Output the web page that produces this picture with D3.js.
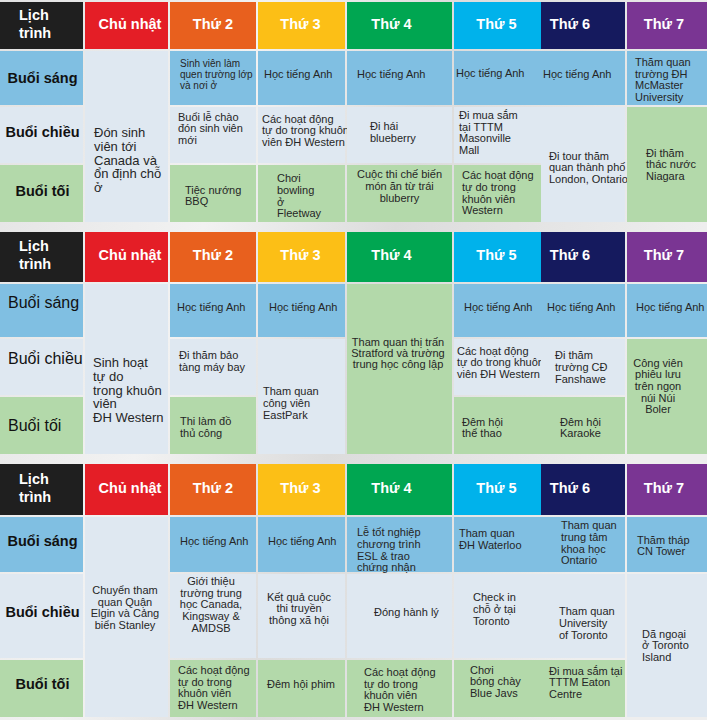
<!DOCTYPE html>
<html>
<head>
<meta charset="utf-8">
<script src="https://cdn.jsdelivr.net/npm/d3@7"></script>
<style>
body { margin: 0; background: #e9e9e9 }
svg { display: block }
</style>
</head>
<body>
<div id="chart"></div>
<script>
// các ngày trong tuần va buổi
var days = ['Chủ nhật', 'Thứ 2', 'Thứ 3', 'Thứ 4', 'Thứ 5', 'Thứ 6', 'Thứ 7']
var sessions = ['Buổi sáng', 'Buổi chiều', 'Buổi tối']
var sessionKinds = ['sang', 'chieu', 'toi']
var cornerLabel = ['Lịch', 'trình']

// tuần 1
var week1 = [
  { day: 0, row: 0, span: 3, kind: 'chieu', text: ['Đón sinh', 'viên tới', 'Canada và', 'ổn định chỗ', 'ở'] },
  { day: 1, row: 0, span: 1, kind: 'sang', text: ['Sinh viên làm', 'quen trường lớp', 'và nơi ở'] },
  { day: 1, row: 1, span: 1, kind: 'chieu', text: ['Buổi lễ chào', 'đón sinh viên', 'mới'] },
  { day: 1, row: 2, span: 1, kind: 'toi', text: ['Tiệc nướng', 'BBQ'] },
  { day: 2, row: 0, span: 1, kind: 'sang', text: ['Học tiếng Anh'] },
  { day: 2, row: 1, span: 1, kind: 'chieu', text: ['Các hoạt động', 'tự do trong khuôn', 'viên ĐH Western'] },
  { day: 2, row: 2, span: 1, kind: 'toi', text: ['Chơi', 'bowling', 'ở', 'Fleetway'] },
  { day: 3, row: 0, span: 1, kind: 'sang', text: ['Học tiếng Anh'] },
  { day: 3, row: 1, span: 1, kind: 'chieu', text: ['Đi hái', 'blueberry'] },
  { day: 3, row: 2, span: 1, kind: 'toi', text: ['Cuộc thi chế biến', 'món ăn từ trái', 'bluberry'] },
  { day: 4, row: 0, span: 1, kind: 'sang', text: ['Học tiếng Anh'] },
  { day: 4, row: 1, span: 1, kind: 'chieu', text: ['Đi mua sắm', 'tại TTTM', 'Masonville', 'Mall'] },
  { day: 4, row: 2, span: 1, kind: 'toi', text: ['Các hoạt động', 'tự do trong', 'khuôn viên', 'Western'] },
  { day: 5, row: 0, span: 1, kind: 'sang', text: ['Học tiếng Anh'] },
  { day: 5, row: 1, span: 2, kind: 'chieu', text: ['Đi tour thăm', 'quan thành phố', 'London, Ontario'] },
  { day: 6, row: 0, span: 1, kind: 'sang', text: ['Thăm quan', 'trường ĐH', 'McMaster', 'University'] },
  { day: 6, row: 1, span: 2, kind: 'toi', text: ['Đi thăm', 'thác nước', 'Niagara'] }
]

// tuần 2
var week2 = [
  { day: 0, row: 0, span: 3, kind: 'chieu', text: ['Sinh hoạt', 'tự do', 'trong khuôn', 'viên', 'ĐH Western'] },
  { day: 1, row: 0, span: 1, kind: 'sang', text: ['Học tiếng Anh'] },
  { day: 1, row: 1, span: 1, kind: 'chieu', text: ['Đi thăm bảo', 'tàng máy bay'] },
  { day: 1, row: 2, span: 1, kind: 'toi', text: ['Thi làm đồ', 'thủ công'] },
  { day: 2, row: 0, span: 1, kind: 'sang', text: ['Học tiếng Anh'] },
  { day: 2, row: 1, span: 2, kind: 'chieu', text: ['Tham quan', 'công viên', 'EastPark'] },
  { day: 3, row: 0, span: 3, kind: 'toi', text: ['Tham quan thị trấn', 'Stratford và trường', 'trung học công lập'] },
  { day: 4, row: 0, span: 1, kind: 'sang', text: ['Học tiếng Anh'] },
  { day: 4, row: 1, span: 1, kind: 'chieu', text: ['Các hoạt động', 'tự do trong khuôn', 'viên ĐH Western'] },
  { day: 4, row: 2, span: 1, kind: 'toi', text: ['Đêm hội', 'thể thao'] },
  { day: 5, row: 0, span: 1, kind: 'sang', text: ['Học tiếng Anh'] },
  { day: 5, row: 1, span: 1, kind: 'chieu', text: ['Đi thăm', 'trường CĐ', 'Fanshawe'] },
  { day: 5, row: 2, span: 1, kind: 'toi', text: ['Đêm hội', 'Karaoke'] },
  { day: 6, row: 0, span: 1, kind: 'sang', text: ['Học tiếng Anh'] },
  { day: 6, row: 1, span: 2, kind: 'toi', text: ['Công viên', 'phiêu lưu', 'trên ngọn', 'núi Núi', 'Boler'] }
]

// tuần 3
var week3 = [
  { day: 0, row: 0, span: 3, kind: 'chieu', text: ['Chuyển tham', 'quan Quận', 'Elgin và Cảng', 'biển Stanley'] },
  { day: 1, row: 0, span: 1, kind: 'sang', text: ['Học tiếng Anh'] },
  { day: 1, row: 1, span: 1, kind: 'chieu', text: ['Giới thiệu', 'trường trung', 'học Canada,', 'Kingsway &', 'AMDSB'] },
  { day: 1, row: 2, span: 1, kind: 'toi', text: ['Các hoạt động', 'tự do trong', 'khuôn viên', 'ĐH Western'] },
  { day: 2, row: 0, span: 1, kind: 'sang', text: ['Học tiếng Anh'] },
  { day: 2, row: 1, span: 1, kind: 'chieu', text: ['Kết quả cuộc', 'thi truyền', 'thông xã hội'] },
  { day: 2, row: 2, span: 1, kind: 'toi', text: ['Đêm hội phim'] },
  { day: 3, row: 0, span: 1, kind: 'sang', text: ['Lễ tốt nghiệp', 'chương trình', 'ESL & trao', 'chứng nhận'] },
  { day: 3, row: 1, span: 1, kind: 'chieu', text: ['Đóng hành lý'] },
  { day: 3, row: 2, span: 1, kind: 'toi', text: ['Các hoạt động', 'tự do trong', 'khuôn viên', 'ĐH Western'] },
  { day: 4, row: 0, span: 1, kind: 'sang', text: ['Tham quan', 'ĐH Waterloo'] },
  { day: 4, row: 1, span: 1, kind: 'chieu', text: ['Check in', 'chỗ ở tại', 'Toronto'] },
  { day: 4, row: 2, span: 1, kind: 'toi', text: ['Chơi', 'bóng chày', 'Blue Javs'] },
  { day: 5, row: 0, span: 1, kind: 'sang', text: ['Tham quan', 'trung tâm', 'khoa học', 'Ontario'] },
  { day: 5, row: 1, span: 1, kind: 'chieu', text: ['Tham quan', 'University', 'of Toronto'] },
  { day: 5, row: 2, span: 1, kind: 'toi', text: ['Đi mua sắm tại', 'TTTM Eaton', 'Centre'] },
  { day: 6, row: 0, span: 1, kind: 'sang', text: ['Thăm tháp', 'CN Tower'] },
  { day: 6, row: 1, span: 2, kind: 'chieu', text: ['Dã ngoại', 'ở Toronto', 'Island'] }
]

// ---- mise en page (couleurs, positions du texte) ----
var dayColors = ['#e41e26', '#e8601e', '#fcbf16', '#00a651', '#00b2eb', '#151a5e', '#7a3593']
var kindColors = { sang: '#80bfe2', chieu: '#dfe8f1', toi: '#b3d9aa' }
var cornerColor = '#1f1f1f'

var width = 707
var height = 720

// bords des colonnes : libellé, CN, T2 ... T7
var colEdges = [0, 85, 170, 258, 347, 454, 541, 627, 707]
var colGaps = [2, 2, 2, 2, 2, 0, 2, 0]
// petit décalage horizontal du nom des jours
var headDx = [3.5, 0, -1, -8, -1, -13, -3]
// bords des lignes : en-tête, sáng, chiều, tối
var tableRows = [
  [2, 51, 107, 165, 224],
  [232, 284, 339, 397, 456],
  [464, 517, 574, 660, 719]
]

// placement du texte dans chaque case : x = retrait gauche, mid = centré (+dx), dy = décalage vertical
var textPlace = [
  [{ x: 9, dy: 23.5, fs: 13 }, { x: 10, dy: -3.5, fs: 10 }, { x: 8, dy: -6.5 }, { x: 15, dy: 2 },
   { x: 6, dy: -4 }, { x: 4, dy: -4.5 }, { x: 19, dy: 2.5 },
   { x: 10, dy: -4 }, { x: 23, dy: -3 }, { mid: 0, dy: -7.5 },
   { x: 2, dy: -5 }, { x: 5, dy: -2.5 }, { x: 8, dy: -0.5 },
   { x: 2, dy: -4 }, { x: 8, dy: 3 },
   { x: 8, dy: 1.5 }, { x: 19, dy: 0 }],
  [{ x: 8, dy: 21, fs: 13 }, { x: 7, dy: -3.5 }, { x: 9, dy: -6 }, { x: 10, dy: 1.5 },
   { x: 11, dy: -3.5 }, { x: 5, dy: 6.5 },
   { mid: -1.5, dy: -15.5, lh: 11 },
   { x: 10, dy: -3.5 }, { x: 3, dy: -4.5 }, { x: 8, dy: 2 },
   { x: 6, dy: -3.5 }, { x: 14, dy: 0 }, { x: 19, dy: 2 },
   { x: 9, dy: -3.5 }, { mid: -9, dy: -10.5 }],
  [{ mid: -1.5, dy: -9.5 }, { x: 10, dy: -3.5 }, { mid: -2, dy: -11.5 }, { x: 8, dy: -1 },
   { x: 10, dy: -3.5 }, { mid: -2.5, dy: -7.5 }, { x: 9, dy: -4.5 },
   { x: 10, dy: 5.5 }, { x: 27, dy: -4 }, { x: 17, dy: 1 },
   { x: 5, dy: -5.5 }, { x: 19, dy: -7 }, { x: 16, dy: -7 },
   { x: 20, dy: -1.5 }, { x: 18, dy: 7 }, { x: 8, dy: -6 },
   { x: 10, dy: 1 }, { x: 15, dy: 0 }]
]

// style des libellés de lignes pour chaque tableau
var rowLabelStyle = [
  { bold: true, fs: 14.5, anchor: 'middle', dy: [0, -3, -2.5] },
  { bold: false, fs: 16, anchor: 'start', dy: [-8, -9, 0] },
  { bold: true, fs: 14.5, anchor: 'middle', dy: [-3.5, -4, -4.5] }
]

var weeks = [week1, week2, week3]

var x = d3.scaleLinear().domain(d3.range(colEdges.length)).range(colEdges)

var svg = d3.select('#chart').append('svg')
    .attr('width', width)
    .attr('height', height)
    .style('font-family', '"Liberation Sans", Arial, sans-serif')

// fond clair façon photo délavée
var defs = svg.append('defs')
var grad = defs.append('linearGradient').attr('id', 'bg').attr('x1', 0).attr('x2', 1).attr('y1', 0).attr('y2', 0.3)
grad.append('stop').attr('offset', '0%').attr('stop-color', '#e2e2e2')
grad.append('stop').attr('offset', '35%').attr('stop-color', '#f2f2f2')
grad.append('stop').attr('offset', '60%').attr('stop-color', '#dcdcdc')
grad.append('stop').attr('offset', '100%').attr('stop-color', '#eeeeee')
svg.append('rect').attr('width', width).attr('height', height).attr('fill', 'url(#bg)')

function cellWidth(col, span) {
  return x(col + span) - x(col) - colGaps[col + span - 1]
}

weeks.forEach(function (cells, t) {
  var y = d3.scaleLinear().domain([0, 1, 2, 3, 4]).range(tableRows[t])
  var g = svg.append('g').attr('class', 'week')

  // coin "Lịch trình"
  g.append('rect')
      .attr('x', x(0)).attr('y', y(0))
      .attr('width', cellWidth(0, 1)).attr('height', y(1) - y(0) - 2)
      .attr('fill', cornerColor)
  g.append('text')
      .attr('fill', '#fff').attr('font-weight', 'bold').attr('font-size', 14.5)
      .selectAll('tspan').data(cornerLabel).enter().append('tspan')
      .attr('x', x(0) + 19)
      .attr('y', function (d, i) { return (y(0) + y(1) - 2) / 2 - 2 + (i - 0.5) * 18 + 5 })
      .text(function (d) { return d })

  // en-têtes des jours
  var heads = g.selectAll('.head').data(days).enter().append('g').attr('class', 'head')
  heads.append('rect')
      .attr('x', function (d, i) { return x(i + 1) })
      .attr('y', y(0))
      .attr('width', function (d, i) { return cellWidth(i + 1, 1) })
      .attr('height', y(1) - y(0) - 2)
      .attr('fill', function (d, i) { return dayColors[i] })
  heads.append('text')
      .attr('x', function (d, i) { return x(i + 1) + cellWidth(i + 1, 1) / 2 + headDx[i] })
      .attr('y', (y(0) + y(1) - 2) / 2 - 2 + 5)
      .attr('text-anchor', 'middle')
      .attr('fill', '#fff').attr('font-weight', 'bold').attr('font-size', 14.5)
      .text(function (d) { return d })

  // libellés des buổi
  var st = rowLabelStyle[t]
  var labels = g.selectAll('.session').data(sessions).enter().append('g').attr('class', 'session')
  labels.append('rect')
      .attr('x', x(0))
      .attr('y', function (d, i) { return y(i + 1) })
      .attr('width', cellWidth(0, 1))
      .attr('height', function (d, i) { return y(i + 2) - y(i + 1) - 2 })
      .attr('fill', function (d, i) { return kindColors[sessionKinds[i]] })
  labels.append('text')
      .attr('x', st.anchor === 'middle' ? x(0) + cellWidth(0, 1) / 2 + 1 : x(0) + 8)
      .attr('y', function (d, i) { return (y(i + 1) + y(i + 2) - 2) / 2 + st.dy[i] + st.fs * 0.35 })
      .attr('text-anchor', st.anchor)
      .attr('font-weight', st.bold ? 'bold' : 'normal')
      .attr('font-size', st.fs)
      .attr('fill', '#111')
      .text(function (d) { return d })

  // cases des activités
  var place = textPlace[t]
  var acts = g.selectAll('.act').data(cells).enter().append('g').attr('class', 'act')
  acts.append('rect')
      .attr('x', function (d) { return x(d.day + 1) })
      .attr('y', function (d) { return y(d.row + 1) })
      .attr('width', function (d) { return cellWidth(d.day + 1, 1) })
      .attr('height', function (d) { return y(d.row + 1 + d.span) - y(d.row + 1) - 2 })
      .attr('fill', function (d) { return kindColors[d.kind] })

  acts.each(function (d, k) {
    var p = place[k]
    var fs = p.fs || 11
    var lh = p.lh || fs * 1.06
    var left = x(d.day + 1)
    var w = cellWidth(d.day + 1, 1)
    var cy = (y(d.row + 1) + y(d.row + 1 + d.span) - 2) / 2 + p.dy
    var centered = p.mid !== undefined
    var tx = centered ? left + w / 2 + p.mid : left + p.x
    var n = d.text.length
    d3.select(this).append('text')
        .attr('font-size', fs)
        .attr('fill', '#262626')
        .attr('text-anchor', centered ? 'middle' : 'start')
        .selectAll('tspan').data(d.text).enter().append('tspan')
        .attr('x', tx)
        .attr('y', function (s, i) { return cy + (i - (n - 1) / 2) * lh + fs * 0.35 })
        .text(function (s) { return s })
  })
})
</script>
</body>
</html>
